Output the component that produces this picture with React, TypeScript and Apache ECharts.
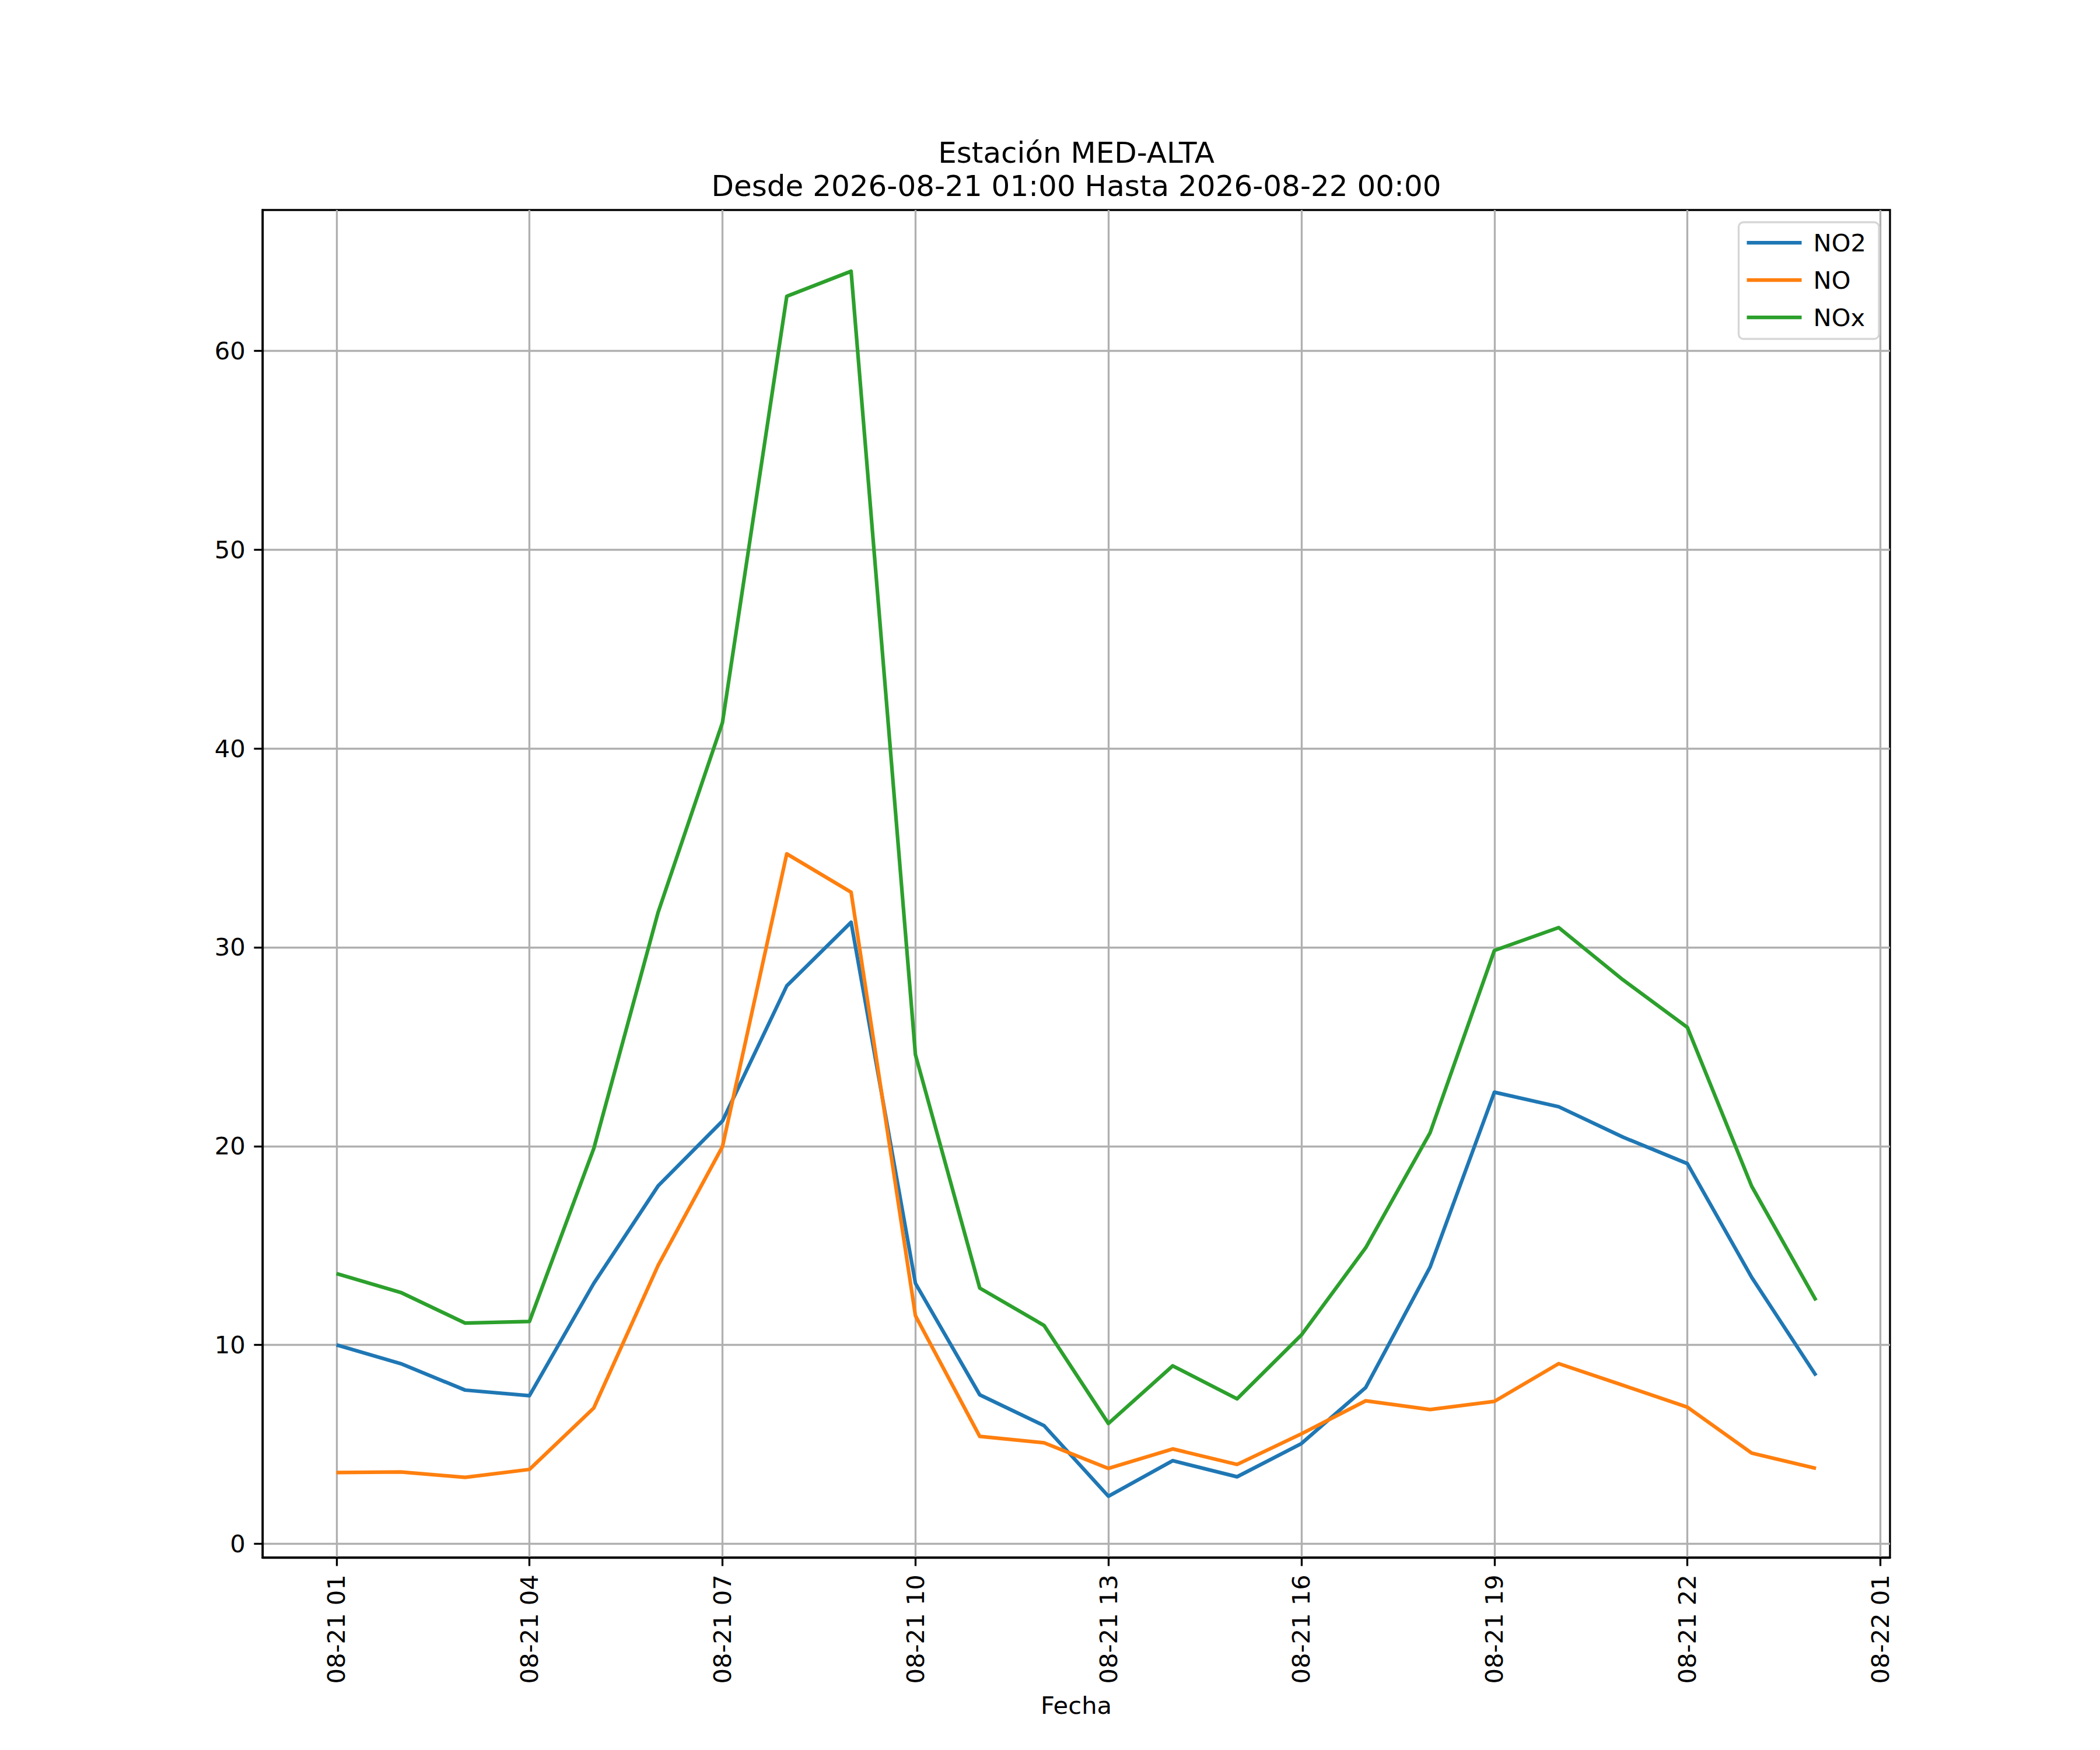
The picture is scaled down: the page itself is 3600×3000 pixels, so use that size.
import { useEffect, useRef } from 'react';
import * as echarts from 'echarts';

// hour index: 1 = 08-21 01:00 ... 24 = 08-22 00:00
const hours = [1, 2, 3, 4, 5, 6, 7, 8, 9, 10, 11, 12, 13, 14, 15, 16, 17, 18, 19, 20, 21, 22, 23, 24];

const no2 = [10.0, 9.06, 7.73, 7.45, 13.1, 18.0, 21.26, 28.06, 31.26, 13.1, 7.49, 5.94, 2.39, 4.18, 3.37, 5.04, 7.86, 13.91, 22.71, 21.98, 20.45, 19.12, 13.4, 8.46];
const no = [3.58, 3.61, 3.34, 3.74, 6.83, 14.0, 19.97, 34.7, 32.77, 11.47, 5.4, 5.08, 3.79, 4.77, 3.99, 5.53, 7.19, 6.75, 7.16, 9.06, 7.97, 6.87, 4.56, 3.79];
const nox = [13.59, 12.64, 11.1, 11.18, 19.88, 31.76, 41.3, 62.74, 64.0, 24.6, 12.86, 10.98, 6.05, 8.95, 7.29, 10.5, 14.89, 20.67, 29.84, 30.99, 28.36, 25.97, 17.98, 12.24];

const xTickValues = [1, 4, 7, 10, 13, 16, 19, 22, 25];
const xTickLabels = ['08-21 01', '08-21 04', '08-21 07', '08-21 10', '08-21 13', '08-21 16', '08-21 19', '08-21 22', '08-22 01'];
const yTickValues = [0, 10, 20, 30, 40, 50, 60];

const titleLines = ['Estación MED-ALTA', 'Desde 2026-08-21 01:00 Hasta 2026-08-22 00:00'];

const FONT = 'DejaVu Sans';
const PT = 300 / 72;

export default function App() {
  const ref = useRef<HTMLDivElement>(null);

  useEffect(() => {
    document.body.style.margin = '0';
    if (!ref.current) {
      return undefined;
    }
    const chart = echarts.init(ref.current, null, { renderer: 'svg' });

    const lineSeries = (name: string, values: number[], color: string) => ({
      name,
      type: 'line' as const,
      data: hours.map((h, i) => [h, values[i]]),
      showSymbol: false,
      silent: true,
      lineStyle: { width: 1.5 * PT, color, join: 'round' as const },
      itemStyle: { color },
      emphasis: { disabled: true },
    });

    const axisText = { fontFamily: FONT, fontSize: 10 * PT, color: '#000' };

    const option = {
      animation: false,
      backgroundColor: '#fff',
      textStyle: { fontFamily: FONT },
      grid: {
        left: 450,
        right: 360,
        top: 360,
        bottom: 330,
        show: true,
        borderColor: '#000',
        borderWidth: 0.8 * PT,
        backgroundColor: 'transparent',
        containLabel: false,
        outerBoundsMode: 'none',
      },
      graphic: titleLines.map((t, i) => ({
        type: 'text',
        x: 1845,
        y: 262 + i * 57,
        silent: true,
        style: {
          text: t,
          fontFamily: FONT,
          fontSize: 12 * PT,
          fill: '#000',
          textAlign: 'center',
          textVerticalAlign: 'middle',
        },
      })),
      legend: {
        orient: 'vertical',
        right: 379,
        top: 381,
        padding: [11, 22, 13, 14],
        itemWidth: 94,
        itemHeight: 1.5 * PT,
        itemGap: 16,
        itemTextGap: 26,
        icon: 'rect',
        backgroundColor: 'rgba(255,255,255,0.8)',
        borderColor: '#d6d6d6',
        borderWidth: 0.8 * PT,
        borderRadius: 8,
        selectedMode: false,
        textStyle: { ...axisText, lineHeight: 48, padding: [0, 0, 0, 15] },
        data: ['NO2', 'NO', 'NOx'],
      },
      xAxis: {
        type: 'value',
        min: -0.15,
        max: 25.15,
        name: 'Fecha',
        nameLocation: 'middle',
        nameGap: 232,
        nameTextStyle: axisText,
        axisLine: { show: true, onZero: false, lineStyle: { color: '#000', width: 0.8 * PT } },
        axisTick: {
          show: true,
          inside: false,
          length: 3.5 * PT,
          customValues: xTickValues,
          lineStyle: { color: '#000', width: 0.8 * PT },
        },
        axisLabel: {
          ...axisText,
          rotate: 90,
          margin: 7 * PT,
          customValues: xTickValues,
          formatter: (v: number) => xTickLabels[xTickValues.indexOf(v)] ?? '',
        },
        splitLine: { show: true, lineStyle: { color: '#b0b0b0', width: 0.8 * PT } },
      },
      yAxis: {
        type: 'value',
        min: -0.69,
        max: 67.08,
        axisLine: { show: true, onZero: false, lineStyle: { color: '#000', width: 0.8 * PT } },
        axisTick: {
          show: true,
          inside: false,
          length: 3.5 * PT,
          customValues: yTickValues,
          lineStyle: { color: '#000', width: 0.8 * PT },
        },
        axisLabel: {
          ...axisText,
          margin: 7 * PT,
          customValues: yTickValues,
          formatter: (v: number) => String(v),
        },
        splitLine: { show: true, lineStyle: { color: '#b0b0b0', width: 0.8 * PT } },
      },
      series: [
        lineSeries('NO2', no2, '#1f77b4'),
        lineSeries('NO', no, '#ff7f0e'),
        lineSeries('NOx', nox, '#2ca02c'),
      ],
    };

    chart.setOption(option as echarts.EChartsOption);

    return () => {
      chart.dispose();
    };
  }, []);

  return <div ref={ref} style={{ width: 3600, height: 3000 }} />;
}
